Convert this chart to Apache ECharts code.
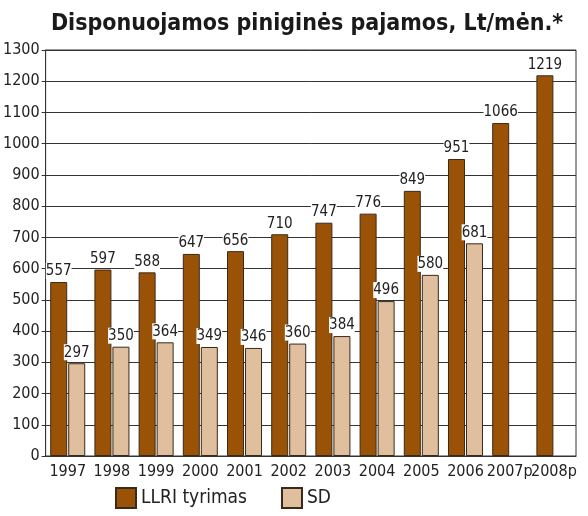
<!DOCTYPE html>
<html>
<head>
<meta charset="utf-8">
<script src="https://cdn.jsdelivr.net/npm/echarts@6/dist/echarts.min.js"></script>
<style>
html, body { margin: 0; padding: 0; background: #fff; }
#chart { width: 588px; height: 516px; }
</style>
</head>
<body>
<div id="chart"></div>
<script>
var years = ['1997', '1998', '1999', '2000', '2001', '2002', '2003', '2004', '2005', '2006', '2007p', '2008p'];
var llri = [557, 597, 588, 647, 656, 710, 747, 776, 849, 951, 1066, 1219];
var sd = [297, 350, 364, 349, 346, 360, 384, 496, 580, 681, null, null];

var font = '"Liberation Sans Narrow", "DejaVu Sans Condensed", sans-serif';
var myChart = echarts.init(document.getElementById('chart'), null, { renderer: 'canvas' });

function barLabel() {
    return {
        show: true,
        position: 'top',
        distance: 3,
        color: '#222',
        fontFamily: font,
        fontSize: 15,
        backgroundColor: '#fff',
        padding: [1, 0, 0, 0]
    };
}

var option = {
    animation: false,
    title: {
        text: 'Disponuojamos piniginės pajamos, Lt/mėn.*',
        left: 302,
        top: 8,
        textAlign: 'center',
        textStyle: { fontFamily: font, fontSize: 23, fontWeight: 'bold', color: '#1a1a1a' }
    },
    legend: {
        bottom: 2,
        left: 110,
        itemGap: 34,
        itemWidth: 20,
        itemHeight: 20,
        icon: 'rect',
        textStyle: { fontFamily: font, fontSize: 19, color: '#222' },
        data: ['LLRI tyrimas', 'SD']
    },
    grid: {
        left: 45,
        right: 12,
        top: 50,
        bottom: 60,
        show: true,
        borderColor: '#333',
        borderWidth: 1
    },
    xAxis: {
        type: 'category',
        data: years,
        axisTick: { show: false },
        axisLine: { lineStyle: { color: '#333' } },
        axisLabel: { fontFamily: font, fontSize: 16, color: '#222', margin: 8, interval: 0 }
    },
    yAxis: {
        type: 'value',
        min: 0,
        max: 1300,
        interval: 100,
        axisLine: { show: true, lineStyle: { color: '#333' } },
        axisTick: { show: true, length: 4, lineStyle: { color: '#333' } },
        splitLine: { lineStyle: { color: '#333', width: 1 } },
        axisLabel: {
            fontFamily: font, fontSize: 16, color: '#222', margin: 6,
            formatter: function (v) { return String(v); }
        }
    },
    series: [
        {
            name: 'LLRI tyrimas',
            type: 'bar',
            data: llri,
            barWidth: 17,
            barGap: '6%',
            itemStyle: { color: '#9a5306', borderColor: '#3a2a1a', borderWidth: 1 },
            label: barLabel()
        },
        {
            name: 'SD',
            type: 'bar',
            data: sd,
            barWidth: 17,
            itemStyle: { color: '#e0bf9f', borderColor: '#3a2a1a', borderWidth: 1 },
            label: barLabel()
        }
    ]
};

option && myChart.setOption(option);
</script>
</body>
</html>
